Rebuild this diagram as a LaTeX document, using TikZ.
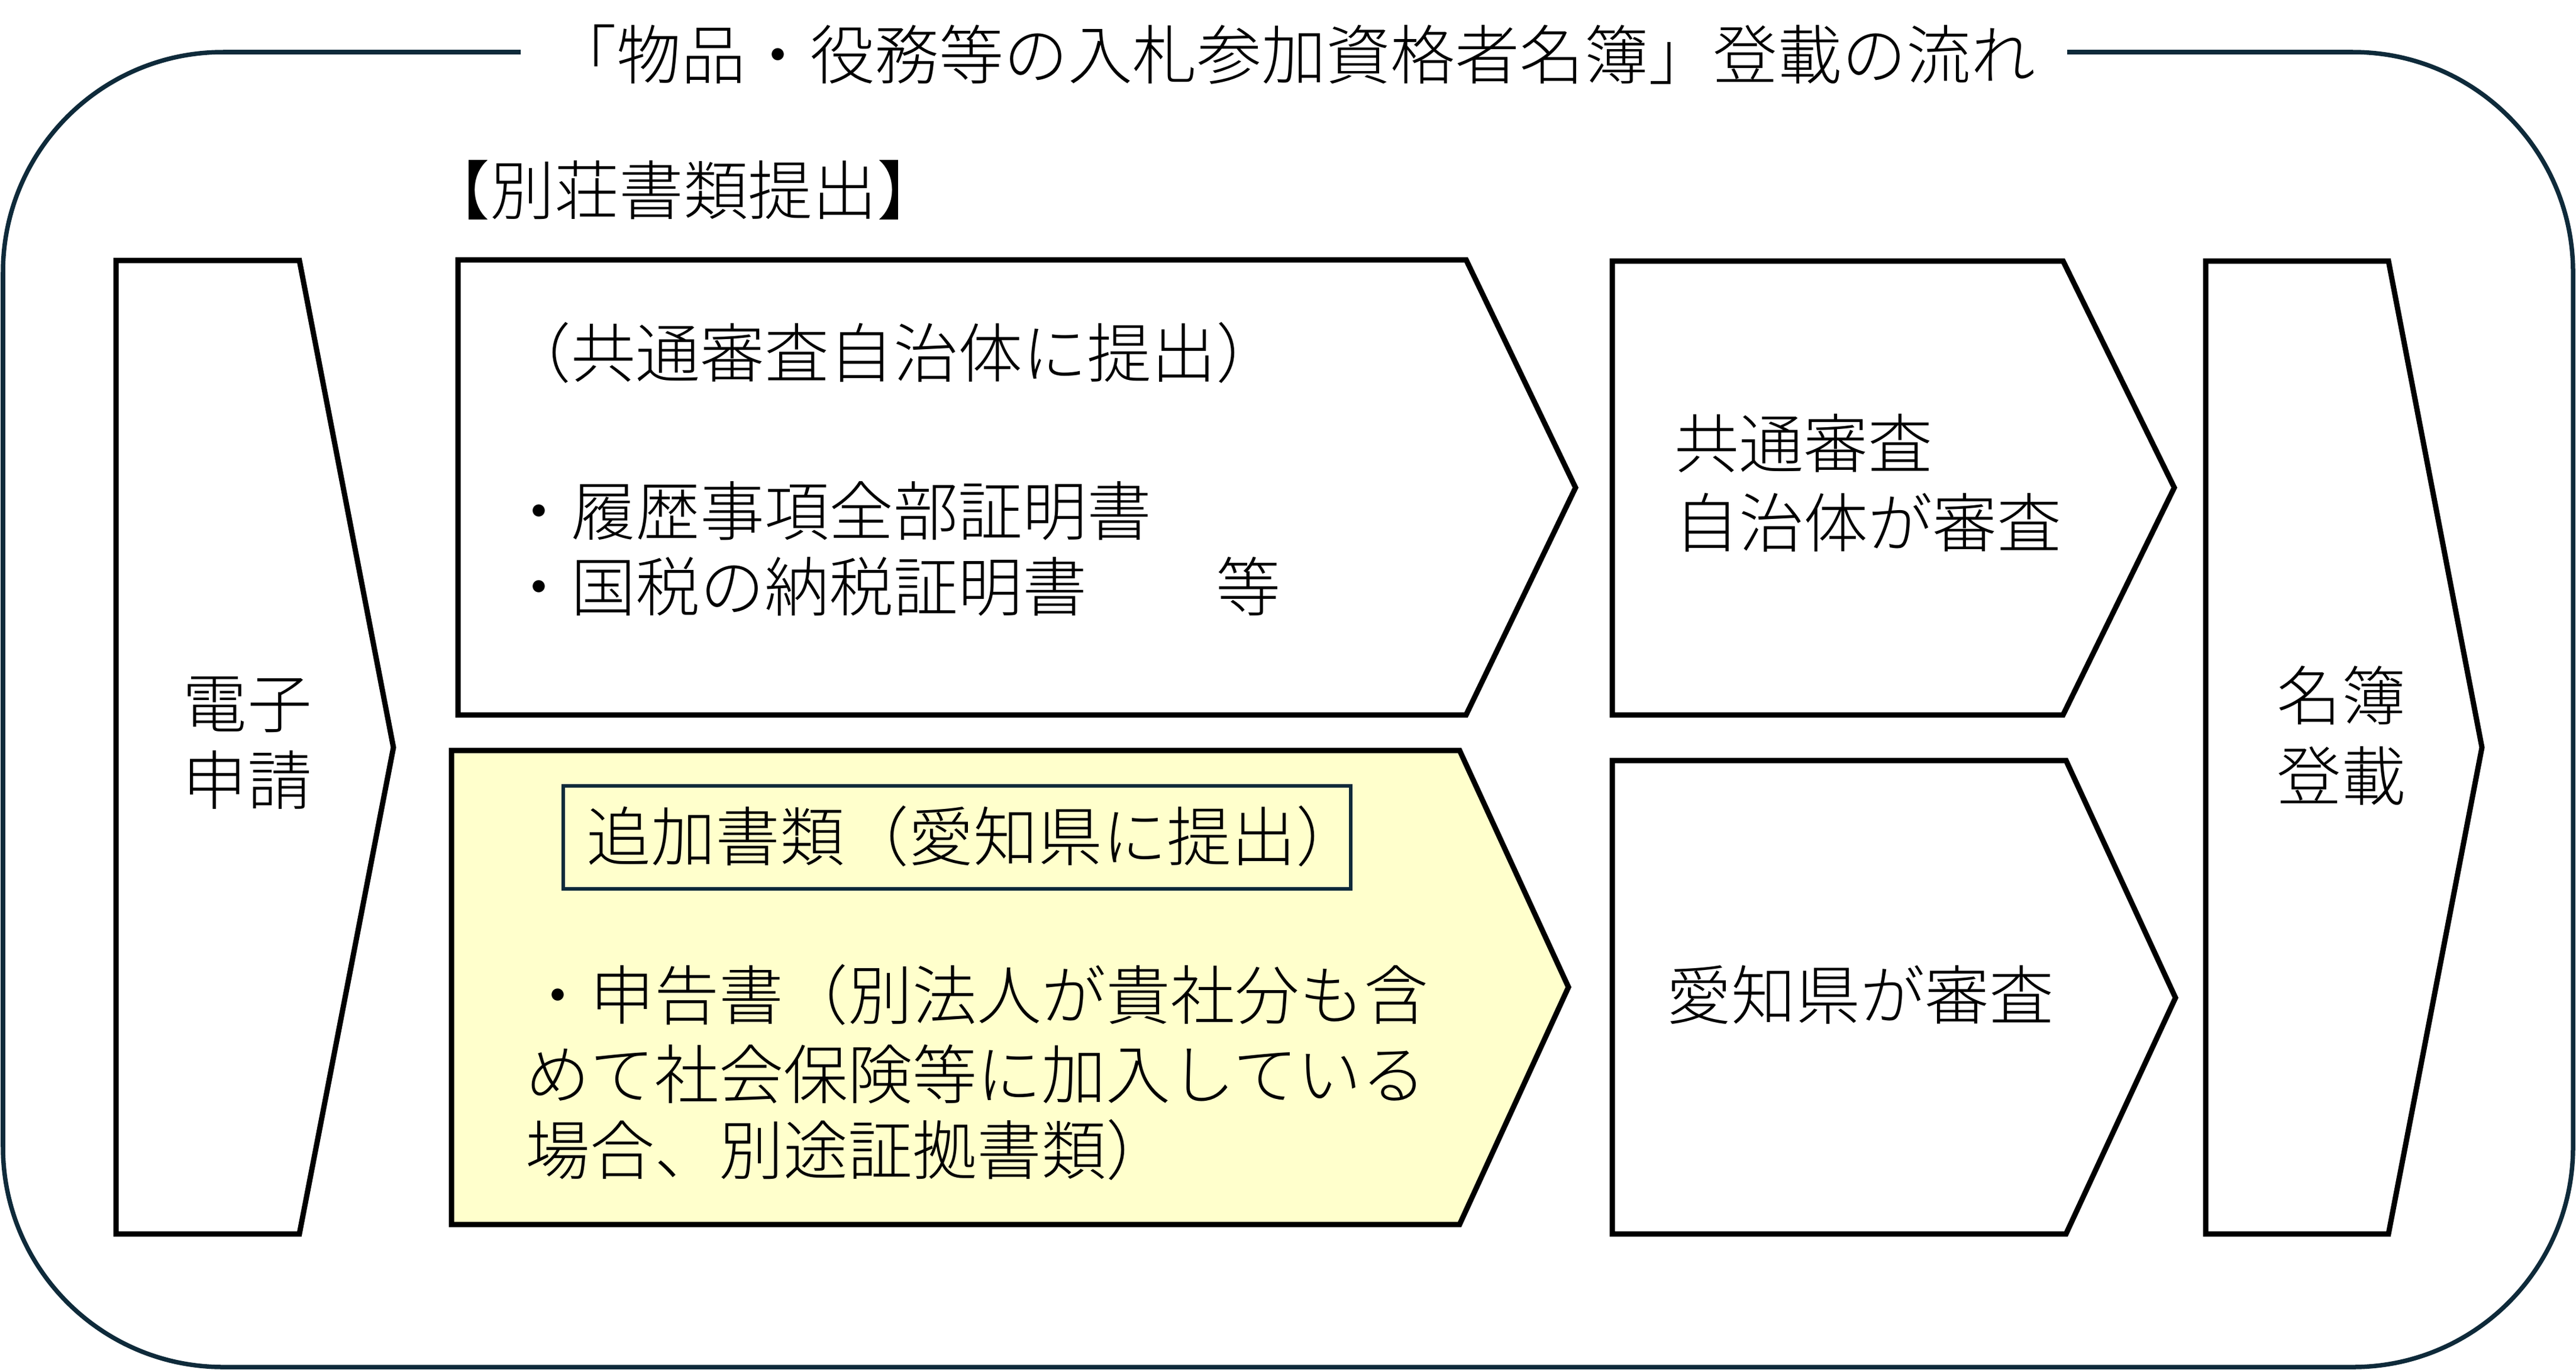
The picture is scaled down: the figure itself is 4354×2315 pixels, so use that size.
\documentclass[tikz,border=0pt]{standalone}
\usepackage{fontspec}
\setmainfont{Noto Sans CJK JP}[UprightFont={* Light}]
\newcommand\jpsize{\fontsize{31pt}{37pt}\selectfont}
\definecolor{framenavy}{RGB}{14,42,58}
\definecolor{paleyellow}{RGB}{255,255,204}
\tikzset{
  chev/.style={draw=black, line width=0.09cm, fill=white},
  chevy/.style={draw=black, line width=0.09cm, fill=paleyellow},
  frameline/.style={draw=framenavy, line width=0.075cm},
  txt/.style={inner sep=0pt, outer sep=0pt, font=\jpsize, text=black},
}
\begin{document}
\begin{tikzpicture}[x=0.01cm,y=-0.01cm]
\useasboundingbox (0,0) rectangle (4354,2315);
\fill[white] (0,0) rectangle (4354,2315);

% outer frame
\draw[frameline, rounded corners=3.72cm]
  (880,88) -- (5,88) -- (5,2310) -- (4349,2310) -- (4349,88) -- (3494,88);

% title
\node[txt, anchor=base] (title) at (2187,133) {「物品・役務等の入札参加資格者名簿」登載の流れ};

% section label
\node[txt, anchor=base west] (bessou) at (719,362) {【別荘書類提出】};

% chevrons
\draw[chev] (196,440) -- (506,440) -- (665,1263) -- (506,2085) -- (196,2085) -- cycle;
\draw[chev] (774,439) -- (2478,439) -- (2663,824) -- (2478,1208) -- (774,1208) -- cycle;
\draw[chevy] (763,1268) -- (2467,1268) -- (2651,1668) -- (2467,2069) -- (763,2069) -- cycle;
\draw[chev] (2725,441) -- (3487,441) -- (3675,824) -- (3487,1208) -- (2725,1208) -- cycle;
\draw[chev] (2725,1285) -- (3492,1285) -- (3677,1686) -- (3492,2085) -- (2725,2085) -- cycle;
\draw[chev] (3728,441) -- (4037,441) -- (4195,1263) -- (4037,2085) -- (3728,2085) -- cycle;

% inner box
\draw[draw=framenavy, line width=0.065cm] (952,1328) rectangle (2283,1502);

% box 1 text
\node[txt, anchor=base] (e1) at (418,1229) {電子};
\node[txt, anchor=base] (e2) at (418,1359) {申請};

% box 2 top text
\node[txt, anchor=base west] (t1) at (856,637) {（共通審査自治体に提出）};
\node[txt, anchor=base west] (t2) at (856,904) {・履歴事項全部証明書};
\node[txt, anchor=base west] (t3) at (856,1032) {・国税の納税証明書　　等};

% box 2 bottom text
\node[txt, anchor=base west] (y0) at (991,1454) {追加書類（愛知県に提出）};
\node[txt, anchor=base west] (y1) at (888,1722) {・申告書（別法人が貴社分も含};
\node[txt, anchor=base west] (y2) at (888,1856) {めて社会保険等に加入している};
\node[txt, anchor=base west] (y3) at (888,1984) {場合、別途証拠書類）};

% box 3 text
\node[txt, anchor=base west] (k1) at (2830,790) {共通審査};
\node[txt, anchor=base west] (k2) at (2830,924) {自治体が審査};
\node[txt, anchor=base west] (a1) at (2817,1722) {愛知県が審査};

% box 4 text
\node[txt, anchor=base] (m1) at (3957,1216) {名簿};
\node[txt, anchor=base] (m2) at (3957,1352) {登載};
\end{tikzpicture}
\end{document}
